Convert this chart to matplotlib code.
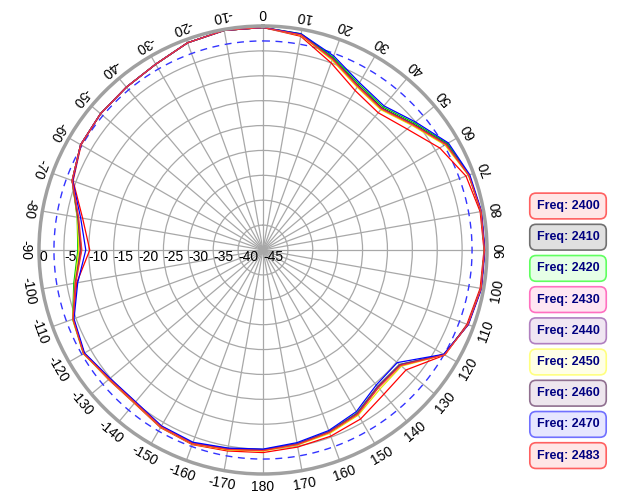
import numpy as np
import matplotlib
matplotlib.use("Agg")
import matplotlib.pyplot as plt

angles = list(range(0, 360, 10))
freqs = [2400, 2410, 2420, 2430, 2440, 2450, 2460, 2470, 2483]
line_colors = ["#ff0000", "#000000", "#00cc00", "#ff3399", "#993399", "#e6e600", "#663366", "#0000ff", "#ff3333"]
edge_colors = ["#ff6060", "#707070", "#60ff60", "#ff70c0", "#b080c0", "#ffff80", "#907090", "#7070ff", "#ff6060"]
face_colors = ["#ffe6e6", "#e0e0e0", "#e6ffe6", "#ffe6f2", "#f0e6f2", "#ffffe6", "#eee6ee", "#e6e6ff", "#ffe6e6"]

g2400 = [-0.3, -1.4, -5.0, -8.0, -9.0, -7.2, -4.0, -1.6, -0.7, -0.6, -0.7, -1.4, -2.8, -7.5, -7.2, -5.8, -5.2, -4.8, -4.3, -4.0, -3.4, -3.8, -4.8, -4.5, -3.4, -4.4, -7.0, -10.2, -8.2, -4.4, -2.8, -2.4, -2.3, -1.9, -0.7, -0.2]
g2410 = [-0.3, -1.0, -4.0, -6.8, -7.8, -5.6, -2.4, -1.0, -0.5, -0.5, -0.5, -1.2, -3.0, -9.0, -9.0, -7.0, -6.0, -5.4, -4.8, -4.4, -3.7, -4.0, -5.0, -4.7, -3.5, -4.4, -6.6, -8.5, -7.2, -4.2, -2.7, -2.4, -2.3, -1.9, -0.7, -0.2]
g2420 = [-0.3, -0.9, -3.8, -6.5, -7.5, -5.3, -2.2, -0.9, -0.5, -0.5, -0.5, -1.2, -3.0, -9.2, -9.2, -7.2, -6.2, -5.5, -4.9, -4.5, -3.7, -4.1, -5.1, -4.8, -3.4, -4.3, -6.4, -7.8, -7.1, -4.2, -2.7, -2.4, -2.3, -1.9, -0.7, -0.2]
g2430 = [-0.3, -1.1, -4.2, -7.0, -8.0, -5.8, -2.6, -1.0, -0.5, -0.5, -0.5, -1.2, -2.9, -9.0, -9.0, -7.0, -6.1, -5.4, -4.8, -4.4, -3.6, -4.0, -5.0, -4.7, -3.4, -4.4, -6.7, -8.2, -7.2, -4.2, -2.7, -2.4, -2.3, -1.9, -0.7, -0.2]
g2440 = [-0.3, -1.1, -4.1, -6.9, -7.9, -5.7, -2.5, -1.0, -0.5, -0.5, -0.5, -1.2, -3.0, -9.2, -9.2, -7.1, -6.1, -5.4, -4.9, -4.5, -3.7, -4.1, -5.1, -4.8, -3.5, -4.4, -6.6, -8.3, -7.3, -4.2, -2.7, -2.4, -2.3, -1.9, -0.7, -0.2]
g2450 = [-0.3, -1.2, -4.4, -7.2, -8.2, -6.0, -2.8, -1.1, -0.5, -0.5, -0.5, -1.2, -2.9, -8.7, -8.5, -6.7, -5.8, -5.2, -4.6, -4.2, -3.5, -3.9, -4.9, -4.6, -3.3, -4.3, -6.6, -8.0, -7.1, -4.2, -2.7, -2.4, -2.3, -1.9, -0.7, -0.2]
g2460 = [-0.3, -1.1, -4.1, -6.9, -7.9, -5.7, -2.5, -1.0, -0.5, -0.5, -0.5, -1.2, -3.0, -9.1, -9.1, -7.1, -6.1, -5.4, -4.8, -4.4, -3.6, -4.0, -5.0, -4.7, -3.4, -4.4, -6.7, -8.4, -7.2, -4.2, -2.7, -2.4, -2.3, -1.9, -0.7, -0.2]
g2470 = [-0.3, -0.9, -3.5, -6.2, -7.2, -5.0, -2.0, -0.8, -0.4, -0.4, -0.4, -1.1, -3.1, -9.8, -9.6, -7.5, -6.4, -5.7, -5.0, -4.6, -3.9, -4.2, -5.2, -4.9, -3.6, -4.6, -7.2, -9.4, -7.8, -4.3, -2.7, -2.4, -2.3, -1.9, -0.7, -0.2]
g2483 = [-0.3, -1.1, -4.2, -7.0, -8.0, -5.8, -2.6, -1.0, -0.5, -0.5, -0.5, -1.2, -2.9, -8.9, -8.9, -6.9, -6.0, -5.3, -4.7, -4.3, -3.6, -4.0, -5.0, -4.7, -3.4, -4.4, -6.8, -8.6, -7.4, -4.2, -2.7, -2.4, -2.3, -1.9, -0.7, -0.2]
gains = [g2400, g2410, g2420, g2430, g2440, g2450, g2460, g2470, g2483]

r_ticks = [0, -5, -10, -15, -20, -25, -30, -35, -40, -45]
theta_labels = list(range(-170, 190, 10))

plt.rcParams['font.family'] = ['Liberation Sans', 'DejaVu Sans']
fig = plt.figure(figsize=(6.33, 5.04), dpi=100)
R = 224
ax = fig.add_axes([(263 - R) / 633, (504 - 250 - R) / 504, 2 * R / 633, 2 * R / 504], projection="polar")
ax.set_theta_zero_location("N")
ax.set_theta_direction(-1)
ax.set_ylim(-45, 0)

th = np.deg2rad(angles + [360])
ax.plot(np.linspace(0, 2 * np.pi, 361), np.full(361, -3), color="#3333ff", lw=1, ls=(0, (5, 4)))
for g, c in zip(gains, line_colors):
    ax.plot(th, g + [g[0]], color=c, lw=0.9)

ax.set_yticks(r_ticks)
ax.set_yticklabels([])
ax.set_xticks(np.deg2rad(np.arange(0, 360, 10)))
ax.set_xticklabels([])
ax.grid(True, color="#a8a8a8", lw=0.9)
ax.spines["polar"].set_color("#a0a0a0")
ax.spines["polar"].set_linewidth(2.5)

for r in r_ticks:
    ax.text(np.deg2rad(-90), r, str(r), ha="left", va="top", fontsize=10, color="black")

for a in theta_labels:
    t = np.deg2rad(a)
    ax.text(t, 2.7, str(a), rotation=180 - a, rotation_mode="anchor", ha="center", va="center",
            fontsize=10, clip_on=False)

for i, (f, ec, fc) in enumerate(zip(freqs, edge_colors, face_colors)):
    fig.text(568 / 633, 1 - (206 + i * 31.2) / 504, "Freq: %d" % f, ha="center", va="center",
             fontsize=9, fontweight="bold", color="#000080",
             bbox=dict(boxstyle="round,pad=0.55,rounding_size=0.5", fc=fc, ec=ec, lw=1.2))

fig.savefig("out.png", dpi=100)
